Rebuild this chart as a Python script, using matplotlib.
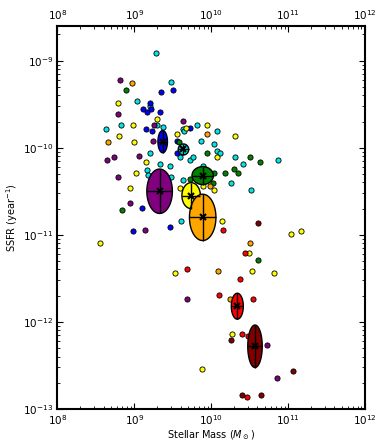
"""
SSFR vs stellar mass scatter with group ellipses
"""
import matplotlib
matplotlib.use('Agg')
import matplotlib.pyplot as plt
import numpy as np

plt.rcParams['font.family'] = ['DejaVu Sans']

# 颜色分组
colors = {
    'purple': '#800080', 'blue': '#0000ff', 'cyan': '#00e6e6', 'green': '#008000',
    'yellow': '#ffff00', 'orange': '#ffa500', 'red': '#ff0000', 'darkred': '#800000',
}

# 各组的点：log10(M*), log10(SSFR)
log_mass = {
    'cyan': [9.28, 9.48, 9.03, 9.21, 9.30, 9.37, 8.63, 8.83, 9.63, 9.65, 9.81, 10.07, 9.87,
             10.04, 10.08, 10.12, 9.21, 9.60, 9.72, 9.76, 10.31, 10.87, 10.41, 9.33, 9.46,
             9.16, 9.18, 9.48, 9.63, 9.89, 10.26, 10.52, 9.61],
    'blue': [9.50, 9.35, 9.20, 9.11, 9.16, 9.22, 9.33, 9.15, 9.23, 9.73, 9.55, 9.55, 9.10,
             9.47, 8.99],
    'purple': [8.82, 8.79, 9.26, 9.63, 9.25, 8.64, 8.74, 9.06, 8.79, 8.95, 9.14, 9.69,
               10.72, 10.86],
    'green': [8.89, 9.58, 9.95, 10.51, 10.63, 10.30, 10.18, 10.35, 10.04, 10.03, 9.73,
              8.84, 10.61],
    'yellow': [8.79, 9.30, 8.99, 9.56, 9.67, 9.94, 10.31, 8.80, 9.00, 9.15, 10.07, 9.02,
               9.89, 10.04, 8.94, 9.59, 10.14, 11.04, 11.17, 8.56, 10.49, 9.53, 10.53,
               10.82, 10.27, 9.88],
    'orange': [8.97, 9.95, 8.66, 9.99, 10.50, 10.09, 10.25],
    'red': [10.15, 9.69, 10.44, 10.37, 10.10, 10.55, 10.40, 10.48, 10.47],
    'darkred': [10.61, 10.26, 11.06, 10.40, 10.65],
}
log_ssfr = {
    'cyan': [-8.91, -9.24, -9.46, -9.52, -9.74, -9.76, -9.79, -9.74, -9.79, -9.81, -9.74,
             -9.81, -9.92, -9.96, -10.04, -10.06, -10.06, -10.11, -10.14, -10.11, -10.11,
             -10.14, -10.19, -10.19, -10.21, -10.26, -10.31, -10.34, -10.37, -10.21,
             -10.41, -10.49, -10.84],
    'blue': [-9.34, -9.36, -9.49, -9.56, -9.59, -9.56, -9.59, -9.79, -9.81, -9.77, -9.92,
             -10.06, -10.69, -10.91, -10.96],
    'purple': [-9.22, -9.61, -9.74, -9.69, -9.92, -10.14, -10.11, -10.09, -10.34, -10.64,
               -10.94, -11.74, -12.26, -12.64],
    'green': [-9.34, -9.94, -10.06, -10.11, -10.16, -10.24, -10.29, -10.29, -10.29,
              -10.41, -10.36, -10.71, -11.29],
    'yellow': [-9.49, -9.67, -9.74, -9.84, -9.77, -9.74, -9.86, -9.87, -9.94, -10.16,
               -10.11, -10.29, -10.44, -10.49, -10.46, -10.46, -10.84, -10.99, -10.96,
               -11.09, -11.21, -11.44, -11.42, -11.44, -12.14, -12.54],
    'orange': [-9.26, -9.84, -9.94, -10.44, -11.09, -11.42, -11.74],
    'red': [-10.94, -11.39, -11.21, -11.51, -11.69, -11.74, -12.14, -12.16, -12.86],
    'darkred': [-10.86, -12.21, -12.56, -12.84, -12.84],
}

# 各组均值及误差（log 空间）
group_order = ['blue', 'cyan', 'purple', 'yellow', 'green', 'orange', 'red', 'darkred']
mean_mass = [9.37, 9.64, 9.33, 9.74, 9.89, 9.89, 10.34, 10.57]
mean_ssfr = [-9.93, -10.02, -10.50, -10.55, -10.32, -10.80, -11.82, -12.28]
err_mass = [0.062, 0.068, 0.166, 0.12, 0.139, 0.172, 0.078, 0.094]
err_ssfr = [0.128, 0.063, 0.255, 0.149, 0.103, 0.266, 0.149, 0.244]

fig = plt.figure(figsize=(3.82, 4.45), dpi=100)
ax = fig.add_axes([0.150, 0.081, 0.8055, 0.861])
ax.set_xscale('log')
ax.set_yscale('log')

# 散点
for name in log_mass:
    ax.scatter(10 ** np.array(log_mass[name]), 10 ** np.array(log_ssfr[name]),
               s=14, c=colors[name], edgecolors='black', linewidths=0.6, zorder=2)

# 椭圆 + 误差棒
t = np.linspace(0, 2 * np.pi, 200)
for name, mx, my, ex, ey in zip(group_order, mean_mass, mean_ssfr, err_mass, err_ssfr):
    ax.fill(10 ** (mx + ex * np.cos(t)), 10 ** (my + ey * np.sin(t)),
            facecolor=colors[name], edgecolor='black', linewidth=1.0, zorder=3)
    xc, yc = 10 ** mx, 10 ** my
    ax.errorbar([xc], [yc],
                xerr=[[xc - 10 ** (mx - ex)], [10 ** (mx + ex) - xc]],
                yerr=[[yc - 10 ** (my - ey)], [10 ** (my + ey) - yc]],
                fmt='x', color='black', ms=4, mew=1.5, elinewidth=1.0, capsize=0, zorder=4)

ax.set_xlim(1e8, 1e12)
ax.set_ylim(1e-13, 10 ** -8.6)
ax.set_xlabel(r'Stellar Mass ($M_\odot$)', fontsize=7, labelpad=1)
ax.set_ylabel(r'SSFR (year$^{-1}$)', fontsize=7, labelpad=2)

ax.tick_params(which='both', direction='in', top=True, right=True, labeltop=True,
               labelsize=7.5)
ax.tick_params(which='major', length=4, width=0.8, pad=3)
ax.tick_params(which='minor', length=2, width=0.6)
for sp in ax.spines.values():
    sp.set_linewidth(1.5)

plt.savefig('out.png', dpi=100)
